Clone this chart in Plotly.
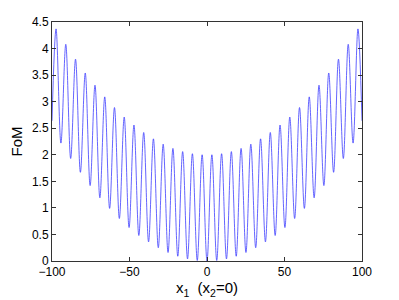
import plotly.graph_objects as go

# x1 positions of the curve's turning points, plus the ends
x1 = [-100.0, -97.39, -94.25, -91.11, -87.96, -84.82, -81.68, -78.54, -75.40, -72.26,
      -69.12, -65.97, -62.83, -59.69, -56.55, -53.41, -50.27, -47.12, -43.98, -40.84,
      -37.70, -34.56, -31.42, -28.27, -25.13, -21.99, -18.85, -15.71, -12.57, -9.42,
      -6.28, -3.14, 0.0, 3.14, 6.28, 9.42, 12.57, 15.71, 18.85, 21.99,
      25.13, 28.27, 31.42, 34.56, 37.70, 40.84, 43.98, 47.12, 50.27, 53.41,
      56.55, 59.69, 62.83, 65.97, 69.12, 72.26, 75.40, 78.54, 81.68, 84.82,
      87.96, 91.11, 94.25, 97.39, 100.0]

fom = [2.64, 4.37, 2.22, 4.08, 1.93, 3.80, 1.67, 3.54, 1.42, 3.31,
       1.19, 3.09, 0.99, 2.89, 0.80, 2.71, 0.63, 2.56, 0.48, 2.42,
       0.36, 2.30, 0.25, 2.20, 0.16, 2.12, 0.09, 2.06, 0.04, 2.02,
       0.01, 2.00, 0.00, 2.00, 0.01, 2.02, 0.04, 2.06, 0.09, 2.12,
       0.16, 2.20, 0.25, 2.30, 0.36, 2.42, 0.48, 2.56, 0.63, 2.71,
       0.80, 2.89, 0.99, 3.09, 1.19, 3.31, 1.42, 3.54, 1.67, 3.80,
       1.93, 4.08, 2.22, 4.37, 2.64]

x_ticks = [-100, -50, 0, 50, 100]
y_ticks = [0, 0.5, 1, 1.5, 2, 2.5, 3, 3.5, 4, 4.5]

FONT = "Liberation Sans, Arial, sans-serif"

fig = go.Figure()
fig.add_trace(go.Scatter(
    x=x1, y=fom, mode="lines",
    line=dict(color="#3d3dff", width=0.8, shape="spline", smoothing=1.0),
    showlegend=False, hoverinfo="skip",
))

axis_common = dict(
    showgrid=False, zeroline=False, showline=True, linecolor="#333333",
    linewidth=1, mirror="ticks", ticks="inside", ticklen=4, tickcolor="#333333",
    automargin=False,
    tickfont=dict(family=FONT, size=12, color="#000"),
)

fig.update_layout(
    width=399, height=300,
    margin=dict(l=52, r=37, t=22, b=39),
    paper_bgcolor="white", plot_bgcolor="white",
    xaxis=dict(range=[-100, 100], tickvals=x_ticks,
               ticktext=[str(v).replace("-", "\u2212") for v in x_ticks],
               title=dict(text="x<sub>1</sub>  (x<sub>2</sub>=0)", standoff=3,
                          font=dict(family=FONT, size=15, color="#000")),
               **axis_common),
    yaxis=dict(range=[0, 4.5], tickvals=y_ticks,
               ticktext=["0", "0.5", "1", "1.5", "2", "2.5", "3", "3.5", "4", "4.5"],
               title=dict(text="FoM", standoff=5,
                          font=dict(family=FONT, size=15, color="#000")),
               **axis_common),
)

fig.write_html("out.html", config={"displayModeBar": False},
               post_script="document.body.style.margin='0';document.body.style.overflow='hidden';")
